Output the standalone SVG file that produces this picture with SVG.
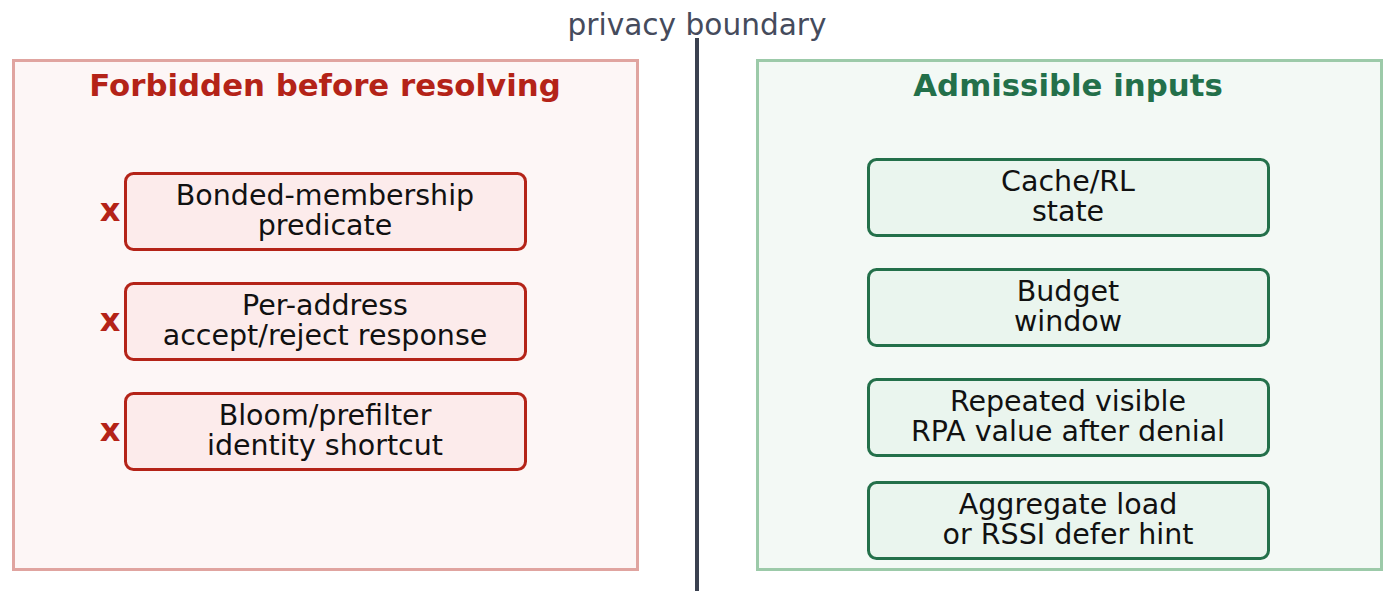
<svg xmlns="http://www.w3.org/2000/svg" width="1395" height="601" viewBox="0 0 1395 601">
<style>
text{font-family:"DejaVu Sans",sans-serif;}
.lbl{font-size:28.5px;fill:#111;text-anchor:middle;}
.title{font-size:30.8px;font-weight:bold;text-anchor:middle;}
.bad rect{fill:#fcebeb;stroke:#b42318;stroke-width:3;}
.ok rect{fill:#eaf5ee;stroke:#23704a;stroke-width:3;}
.x{font-size:32px;font-weight:bold;fill:#b42318;text-anchor:middle;}
</style>
<rect width="1395" height="601" fill="#ffffff"/>
<g id="panel-forbidden">
<rect x="13.5" y="60.5" width="624" height="509" fill="#fdf6f6" stroke="#e0a4a0" stroke-width="3"/>
<text class="title" x="325" y="96" fill="#b42318">Forbidden before resolving</text>
</g>
<g id="panel-admissible">
<rect x="757.5" y="60.5" width="624" height="509" fill="#f3f9f5" stroke="#9ccaa9" stroke-width="3"/>
<text class="title" x="1068" y="96" fill="#23704a">Admissible inputs</text>
</g>
<g id="divider">
<line x1="697" y1="38" x2="697" y2="591" stroke="#3a4150" stroke-width="4"/>
<text x="697" y="35" font-size="29.6" fill="#454b5c" text-anchor="middle">privacy boundary</text>
</g>
<g id="node-bonded" class="bad">
<rect x="125.5" y="173.5" width="400" height="76" rx="8"/>
<text class="lbl" x="325" y="205">Bonded-membership</text>
<text class="lbl" x="325" y="235">predicate</text>
<text class="x" x="110" y="221">x</text>
</g>
<g id="node-peraddress" class="bad">
<rect x="125.5" y="283.5" width="400" height="76" rx="8"/>
<text class="lbl" x="325" y="315">Per-address</text>
<text class="lbl" x="325" y="345">accept/reject response</text>
<text class="x" x="110" y="331">x</text>
</g>
<g id="node-bloom" class="bad">
<rect x="125.5" y="393.5" width="400" height="76" rx="8"/>
<text class="lbl" x="325" y="425">Bloom/prefilter</text>
<text class="lbl" x="325" y="455">identity shortcut</text>
<text class="x" x="110" y="441">x</text>
</g>
<g id="node-cache" class="ok">
<rect x="868.5" y="159.5" width="400" height="76" rx="8"/>
<text class="lbl" x="1068" y="191">Cache/RL</text>
<text class="lbl" x="1068" y="221">state</text>
</g>
<g id="node-budget" class="ok">
<rect x="868.5" y="269.5" width="400" height="76" rx="8"/>
<text class="lbl" x="1068" y="301">Budget</text>
<text class="lbl" x="1068" y="331">window</text>
</g>
<g id="node-rpa" class="ok">
<rect x="868.5" y="379.5" width="400" height="76" rx="8"/>
<text class="lbl" x="1068" y="411">Repeated visible</text>
<text class="lbl" x="1068" y="441">RPA value after denial</text>
</g>
<g id="node-aggregate" class="ok">
<rect x="868.5" y="482.5" width="400" height="76" rx="8"/>
<text class="lbl" x="1068" y="514">Aggregate load</text>
<text class="lbl" x="1068" y="544">or RSSI defer hint</text>
</g>
<g id="connectors"></g>
</svg>
